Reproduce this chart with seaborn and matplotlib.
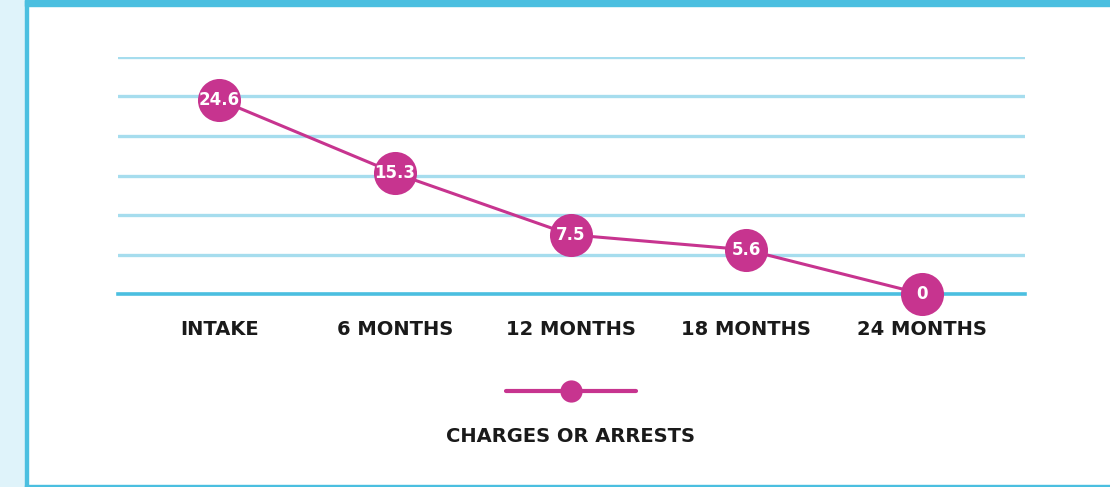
import matplotlib
matplotlib.use("Agg")
import matplotlib.pyplot as plt
from matplotlib.patches import Rectangle
from matplotlib.lines import Line2D
import seaborn as sns
import pandas as pd

categories = ["INTAKE", "6 MONTHS", "12 MONTHS", "18 MONTHS", "24 MONTHS"]
values = [24.6, 15.3, 7.5, 5.6, 0]
value_labels = ["24.6", "15.3", "7.5", "5.6", "0"]
series_name = "CHARGES OR ARRESTS"
grid_ticks = [0, 5, 10, 15, 20, 25, 30]

MAGENTA = "#C7348F"
GRID = "#A6DDEE"
BASE = "#4BBFE0"
DARK = "#1A1A1A"

sns.set_theme(style="white")
plt.rcParams["font.family"] = ["DejaVu Sans"]

W, H = 1110, 487
fig = plt.figure(figsize=(W / 100, H / 100), dpi=100)
fig.patch.set_facecolor("white")

# page decorations
fig.add_artist(Rectangle((0, 0), 25 / W, 1, transform=fig.transFigure, color="#DFF3FA", zorder=0))
fig.add_artist(Rectangle((25 / W, 0), 3 / W, 1, transform=fig.transFigure, color=BASE, zorder=1))
fig.add_artist(Rectangle((25 / W, 1 - 6 / H), 1, 6 / H, transform=fig.transFigure, color=BASE, zorder=1))
fig.add_artist(Rectangle((25 / W, 0), 1, 2 / H, transform=fig.transFigure, color=BASE, zorder=1))

ax = fig.add_axes([118 / W, 1 - 294 / H, (1025 - 118) / W, (294 - 57) / H])
ax.set_facecolor("none")

df = pd.DataFrame({"cat": categories, "val": values})
sns.lineplot(data=df, x="cat", y="val", ax=ax, color=MAGENTA, linewidth=2.2,
             marker="o", markersize=31, markeredgewidth=0, clip_on=False, zorder=5)
for ln in ax.lines:
    ln.set_clip_on(False)

for i, (v, lab) in enumerate(zip(values, value_labels)):
    ax.text(i, v, lab, ha="center", va="center", color="white", fontsize=12,
            fontweight="bold", zorder=6, clip_on=False)

ax.set_xlim(-0.575, 4.585)
ax.set_ylim(0, 30)
ax.set_yticks(grid_ticks)
ax.yaxis.grid(True, color=GRID, linewidth=2.4, zorder=0)
ax.set_axisbelow(True)
for sp in ["top", "right", "left"]:
    ax.spines[sp].set_visible(False)
ax.spines["bottom"].set_color(BASE)
ax.spines["bottom"].set_linewidth(2.6)
ax.spines["bottom"].set_zorder(1)
ax.set_yticklabels([])
ax.tick_params(axis="y", length=0)
ax.tick_params(axis="x", length=0, pad=19, labelsize=14, labelcolor=DARK)
for t in ax.get_xticklabels():
    t.set_fontweight("bold")
ax.set_xlabel("")
ax.set_ylabel("")

handle = Line2D([], [], color=MAGENTA, linewidth=3, marker="o", markersize=16, markeredgewidth=0)
leg = fig.legend(handles=[handle], labels=[""], loc="center", bbox_to_anchor=(571 / W, 1 - 392 / H),
                 frameon=False, handlelength=9.3, handletextpad=0, borderpad=0, fontsize=10)
fig.text(571 / W, 1 - 436 / H, series_name, ha="center", va="center", fontsize=14,
         fontweight="bold", color=DARK)

fig.savefig("out.png", dpi=100)
